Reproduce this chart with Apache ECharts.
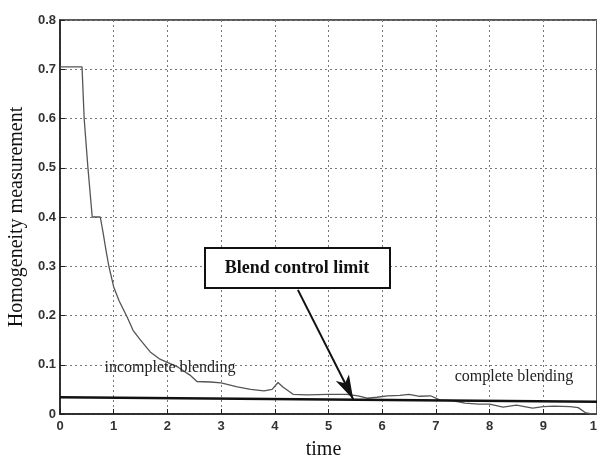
<!DOCTYPE html>
<html>
<head>
<meta charset="utf-8">
<script src="https://cdn.jsdelivr.net/npm/echarts@6/dist/echarts.min.js"></script>
<style>html,body{margin:0;padding:0;background:#fff;}#c{width:597px;height:457px;}</style>
</head>
<body>
<div id="c"></div>
<script>
var times = [0, 0.41, 0.45, 0.52, 0.6, 0.75, 0.8, 0.86, 0.91, 1.0, 1.1, 1.25, 1.36, 1.5, 1.68, 1.85, 2.0, 2.2, 2.42, 2.55, 2.8, 3.0, 3.3, 3.55, 3.8, 3.95, 4.06, 4.15, 4.34, 4.6, 5.0, 5.34, 5.55, 5.72, 5.9, 6.1, 6.33, 6.5, 6.7, 6.9, 7.08, 7.3, 7.54, 7.8, 8.0, 8.25, 8.5, 8.8, 9.0, 9.2, 9.5, 9.65, 9.78, 9.9, 10];
var homogeneity = [0.705, 0.705, 0.6, 0.5, 0.4, 0.4, 0.37, 0.33, 0.3, 0.258, 0.23, 0.197, 0.17, 0.15, 0.126, 0.112, 0.105, 0.095, 0.079, 0.066, 0.065, 0.063, 0.055, 0.05, 0.047, 0.05, 0.064, 0.055, 0.04, 0.039, 0.04, 0.04, 0.037, 0.032, 0.034, 0.037, 0.038, 0.04, 0.036, 0.037, 0.028, 0.027, 0.022, 0.02, 0.02, 0.014, 0.018, 0.012, 0.015, 0.016, 0.015, 0.013, 0.003, 0, 0];
var limitTimes = [0, 10];
var limitValues = [0.034, 0.025];
var arrowFrom = [4.43, 0.252];
var arrowTo = [5.46, 0.03];
var xTicks = [0, 1, 2, 3, 4, 5, 6, 7, 8, 9, 10];
var yTicks = [0, 0.1, 0.2, 0.3, 0.4, 0.5, 0.6, 0.7, 0.8];
var labels = {box: 'Blend control limit', left: 'incomplete blending', right: 'complete blending', x: 'time', y: 'Homogeneity measurement'};

var chart = echarts.init(document.getElementById('c'));
var serif = '"Liberation Serif", "DejaVu Serif", serif';
var sans = '"Liberation Sans", Arial, sans-serif';
chart.setOption({
  animation: false,
  grid: {left: 60, right: 0, top: 20, bottom: 43, containLabel: false, outerBoundsMode: 'none',
    show: true, borderColor: '#222', borderWidth: 1.5, backgroundColor: 'transparent'},
  xAxis: {
    type: 'value', min: xTicks[0], max: xTicks[xTicks.length - 1], interval: 1,
    name: labels.x, nameLocation: 'middle', nameGap: 26,
    nameTextStyle: {fontFamily: serif, fontSize: 20, color: '#111', padding: [0, 10, 0, 0]},
    axisLine: {show: true, lineStyle: {color: '#222', width: 1.5}},
    axisTick: {show: true, inside: true, length: 5, lineStyle: {color: '#222'}},
    axisLabel: {fontFamily: sans, fontSize: 13, fontWeight: 'bold', color: '#333', margin: 6},
    splitLine: {show: true, lineStyle: {color: '#777', type: [2, 3], width: 1}}
  },
  yAxis: {
    type: 'value', min: yTicks[0], max: yTicks[yTicks.length - 1], interval: 0.1,
    name: labels.y, nameLocation: 'middle', nameGap: 30,
    nameTextStyle: {fontFamily: serif, fontSize: 20, color: '#111'},
    axisLine: {show: true, lineStyle: {color: '#222', width: 1.5}},
    axisTick: {show: true, inside: true, length: 5, lineStyle: {color: '#222'}},
    axisLabel: {fontFamily: sans, fontSize: 13, fontWeight: 'bold', color: '#333', margin: 4,
      formatter: function (v) { return v === 0 ? '0' : v.toFixed(1); }},
    splitLine: {show: true, lineStyle: {color: '#777', type: [2, 3], width: 1}}
  },
  series: [
    {
      type: 'line', name: 'measurement', showSymbol: false, symbol: 'none',
      data: times.map(function (t, i) { return [t, homogeneity[i]]; }),
      lineStyle: {color: '#555', width: 1.3}, z: 3
    },
    {
      type: 'line', name: 'limit', showSymbol: false, symbol: 'none',
      data: limitTimes.map(function (t, i) { return [t, limitValues[i]]; }),
      lineStyle: {color: '#111', width: 2.5}, z: 4,
      markLine: {
        silent: true, symbol: ['none', 'arrow'], symbolSize: [11, 24],
        label: {show: false},
        lineStyle: {color: '#111', width: 2, type: 'solid'},
        data: [[{coord: arrowFrom}, {coord: arrowTo}]]
      }
    }
  ],
  graphic: [
    {type: 'rect', x: 205, y: 248, z: 10,
      shape: {width: 185, height: 40}, style: {fill: '#fff', stroke: '#111', lineWidth: 2}},
    {type: 'text', z: 11, x: 297, y: 268,
      style: {text: labels.box, font: 'bold 18px ' + serif, fill: '#111', textAlign: 'center', textVerticalAlign: 'middle'}},
    {type: 'text', z: 11, x: 170, y: 368,
      style: {text: labels.left, font: '16px ' + serif, fill: '#222', textAlign: 'center', textVerticalAlign: 'middle'}},
    {type: 'text', z: 11, x: 514, y: 377,
      style: {text: labels.right, font: '16px ' + serif, fill: '#222', textAlign: 'center', textVerticalAlign: 'middle'}}
  ]
});
</script>
</body>
</html>
